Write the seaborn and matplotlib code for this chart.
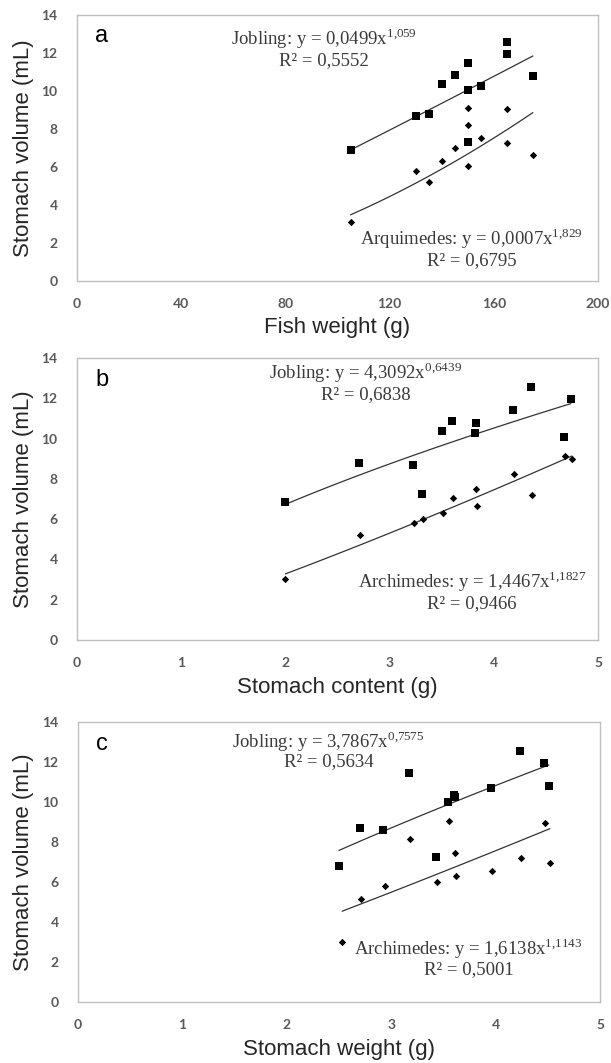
import numpy as np
import pandas as pd
import seaborn as sns
import matplotlib.pyplot as plt

# panel a - fish weight
fish_weight_job = [105, 130, 135, 140, 145, 150, 150, 150, 155, 165, 165, 175]
jobling_a = [6.87, 8.68, 8.8, 10.35, 10.83, 11.45, 10.04, 7.29, 10.25, 12.57, 11.97, 10.78]
fish_weight_arq = [105, 130, 135, 140, 145, 150, 150, 150, 155, 165, 165, 175]
arq_a = [3.08, 5.79, 5.19, 6.34, 7.01, 9.09, 8.19, 6.04, 7.54, 9.03, 7.24, 6.64]

# panel b - stomach content
content_job = [2.0, 2.71, 3.22, 3.31, 3.50, 3.60, 3.83, 3.82, 4.18, 4.36, 4.67, 4.74]
jobling_b = [6.85, 8.77, 8.67, 7.27, 10.38, 10.87, 10.76, 10.26, 11.44, 12.56, 10.08, 11.95]
content_arq = [2.0, 2.72, 3.23, 3.32, 3.51, 3.61, 3.83, 3.84, 4.19, 4.37, 4.68, 4.75]
arq_b = [3.04, 5.23, 5.79, 6.02, 6.31, 7.03, 7.50, 6.64, 8.23, 7.20, 9.12, 9.0]

# panel c - stomach weight
weight_job = [2.50, 2.70, 2.92, 3.17, 3.43, 3.54, 3.60, 3.61, 3.96, 4.23, 4.46, 4.51]
jobling_c = [6.82, 8.72, 8.62, 11.45, 7.25, 10.02, 10.35, 10.25, 10.7, 12.53, 11.95, 10.82]
weight_arq = [2.53, 2.71, 2.94, 3.18, 3.44, 3.55, 3.61, 3.62, 3.97, 4.24, 4.47, 4.52]
arq_c = [2.98, 5.15, 5.78, 8.15, 5.98, 9.07, 7.47, 6.28, 6.57, 7.2, 8.97, 6.95]

# power fits y = a*x^b as printed on the chart
jobling_fit = [(0.0499, 1.059), (4.3092, 0.6439), (3.7867, 0.7575)]
arq_fit = [(0.0007, 1.829), (1.4467, 1.1827), (1.6138, 1.1143)]

panel_letters = ["a", "b", "c"]
x_labels = ["Fish weight (g)", "Stomach content (g)", "Stomach weight (g)"]
x_limits = [200, 5, 5]
x_steps = [40, 1, 1]
jobling_text = [r"Jobling: y = 0,0499x$^{\mathrm{1{,}059}}$",
                r"Jobling: y = 4,3092x$^{\mathrm{0{,}6439}}$",
                r"Jobling: y = 3,7867x$^{\mathrm{0{,}7575}}$"]
jobling_r2 = ["R² = 0,5552", "R² = 0,6838", "R² = 0,5634"]
arq_text = [r"Arquimedes: y = 0,0007x$^{\mathrm{1{,}829}}$",
            r"Archimedes: y = 1,4467x$^{\mathrm{1{,}1827}}$",
            r"Archimedes: y = 1,6138x$^{\mathrm{1{,}1143}}$"]
arq_r2 = ["R² = 0,6795", "R² = 0,9466", "R² = 0,5001"]
# text anchor points in data units
jobling_pos = [(94.6, 12.74, 11.58), (2.77, 13.26, 12.16), (2.40, 13.0, 12.0)]
arq_pos = [(151.5, 2.21, 1.05), (3.79, 2.88, 1.83), (3.74, 2.68, 1.6)]

xs_job = [fish_weight_job, content_job, weight_job]
ys_job = [jobling_a, jobling_b, jobling_c]
xs_arq = [fish_weight_arq, content_arq, weight_arq]
ys_arq = [arq_a, arq_b, arq_c]

sns.set_style("white")
plt.rcParams['font.family'] = ['Liberation Sans', 'DejaVu Sans']
plt.rcParams['mathtext.fontset'] = 'custom'
plt.rcParams['mathtext.rm'] = 'Liberation Serif'

W, H = 611, 1063
fig = plt.figure(figsize=(W / 100, H / 100), dpi=100)
# axes boxes in pixels: left, right, top, bottom
boxes = [(77, 598, 15, 281), (77, 598, 358, 640), (78, 600, 722, 1002)]
xlabel_y = [327, 687, 1050]

eq_color = "#3a3a3a"
for i in range(3):
    l, r, t, b = boxes[i]
    ax = fig.add_axes([l / W, 1 - b / H, (r - l) / W, (b - t) / H])

    df_j = pd.DataFrame({"x": xs_job[i], "y": ys_job[i]})
    df_a = pd.DataFrame({"x": xs_arq[i], "y": ys_arq[i]})
    sns.scatterplot(data=df_j, x="x", y="y", marker="s", s=40, color="black",
                    edgecolor="black", linewidth=0, ax=ax, legend=False, zorder=3)
    sns.scatterplot(data=df_a, x="x", y="y", marker="D", s=14, color="black",
                    edgecolor="black", linewidth=0, ax=ax, legend=False, zorder=3)

    for df, (a, p) in [(df_j, jobling_fit[i]), (df_a, arq_fit[i])]:
        xx = np.linspace(df["x"].min(), df["x"].max(), 60)
        fit = pd.DataFrame({"x": xx, "y": a * xx ** p})
        sns.lineplot(data=fit, x="x", y="y", color="#333333", linewidth=0.9, ax=ax)

    ax.set_xlim(0, x_limits[i])
    ax.set_ylim(0, 14)
    ax.set_xticks(np.arange(0, x_limits[i] + x_steps[i] / 2, x_steps[i]))
    ax.set_yticks(np.arange(0, 15, 2))
    ax.set_xlabel("")
    ax.set_ylabel("")
    ax.tick_params(axis="both", length=0, labelsize=10, labelcolor="#595959")
    ax.tick_params(axis="x", pad=12)
    ax.tick_params(axis="y", pad=14)
    for lab in ax.get_xticklabels() + ax.get_yticklabels():
        lab.set_fontfamily("Lato")
        lab.set_fontweight("bold")
    for sp in ax.spines.values():
        sp.set_color("#bfbfbf")
        sp.set_linewidth(1.0)

    jx, jy1, jy2 = jobling_pos[i]
    ax.text(jx, jy1, jobling_text[i], ha="center", va="center", fontsize=13.5,
            family="Liberation Serif", color=eq_color)
    ax.text(jx, jy2, jobling_r2[i], ha="center", va="center", fontsize=13.5,
            family="Liberation Serif", color=eq_color)
    axx, ay1, ay2 = arq_pos[i]
    ax.text(axx, ay1, arq_text[i], ha="center", va="center", fontsize=13.5,
            family="Liberation Serif", color=eq_color)
    ax.text(axx, ay2, arq_r2[i], ha="center", va="center", fontsize=13.5,
            family="Liberation Serif", color=eq_color)

    ax.text(0.035, 0.9, panel_letters[i], transform=ax.transAxes, fontsize=17,
            ha="left", va="baseline", color="black")

    fig.text(24 / W, 1 - (t + b) / 2 / H, "Stomach volume (mL)", rotation=90,
             ha="center", va="center", fontsize=16)
    fig.text((l + r) / 2 / W, 1 - xlabel_y[i] / H, x_labels[i],
             ha="center", va="center", fontsize=16)

fig.savefig("out.png", dpi=100)
